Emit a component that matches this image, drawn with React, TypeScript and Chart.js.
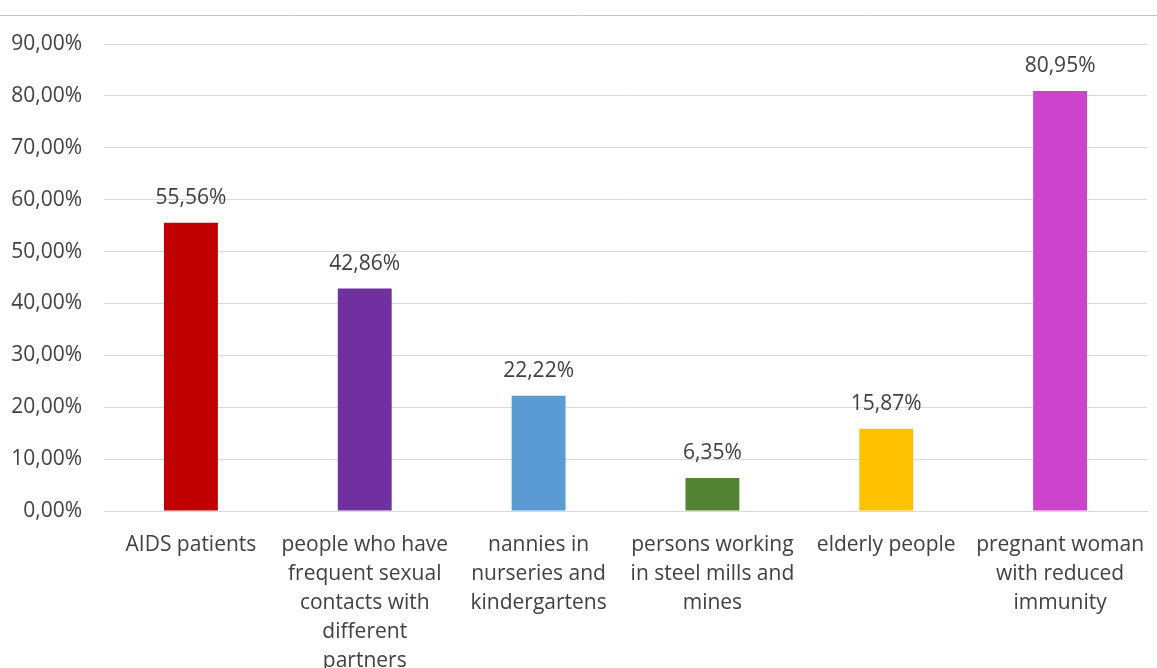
import React, { useEffect, useRef } from "react";
import { Chart, registerables } from "chart.js";

Chart.register(...registerables);

const categories: string[][] = [
  ["AIDS patients"],
  ["people who have", "frequent sexual", "contacts with", "different", "partners"],
  ["nannies in", "nurseries and", "kindergartens"],
  ["persons working", "in steel mills and", "mines"],
  ["elderly people"],
  ["pregnant woman", "with reduced", "immunity"],
];
const values: number[] = [55.56, 42.86, 22.22, 6.35, 15.87, 80.95];
const barColors: string[] = ["#C00000", "#7030A0", "#5B9BD5", "#548235", "#FFC000", "#CC44CC"];
const yMax = 90;
const yStep = 10;

const FONT = "'Open Sans', 'Liberation Sans', sans-serif";
const TEXT = "#404040";

const fmt = (v: number) => v.toFixed(2).replace(".", ",") + "%";

const topLine = {
  id: "topLine",
  beforeDraw(chart: any) {
    const ctx = chart.ctx;
    ctx.save();
    ctx.strokeStyle = "#C8C8C8";
    ctx.lineWidth = 1;
    ctx.beginPath();
    ctx.moveTo(0, 15.5);
    ctx.lineTo(chart.width, 15.5);
    ctx.stroke();
    ctx.restore();
  },
};

const valueLabels = {
  id: "valueLabels",
  afterDatasetsDraw(chart: any) {
    const ctx = chart.ctx;
    const meta = chart.getDatasetMeta(0);
    ctx.save();
    ctx.font = `21px ${FONT}`;
    ctx.fillStyle = TEXT;
    ctx.textAlign = "center";
    ctx.textBaseline = "middle";
    meta.data.forEach((bar: any, i: number) => {
      ctx.fillText(fmt(values[i]), bar.x, bar.y - 25);
    });
    ctx.restore();
  },
};

export default function App() {
  const ref = useRef<HTMLCanvasElement>(null);
  useEffect(() => {
    if (!ref.current) return;
    const chart = new Chart(ref.current, {
      type: "bar",
      data: {
        labels: categories,
        datasets: [
          {
            data: values,
            backgroundColor: barColors,
            barPercentage: 0.31,
            categoryPercentage: 1,
          },
        ],
      },
      options: {
        animation: false,
        responsive: false,
        maintainAspectRatio: false,
        layout: { padding: { top: 44, right: 10, left: 0, bottom: 0 } },
        plugins: {
          legend: { display: false },
          tooltip: { enabled: false },
        },
        scales: {
          x: {
            grid: { display: false, drawTicks: false },
            border: { display: true, color: "#D9D9D9", width: 1 },
            ticks: {
              autoSkip: false,
              maxRotation: 0,
              minRotation: 0,
              padding: 20,
              color: TEXT,
              font: { family: FONT, size: 21, lineHeight: 1.38 },
            },
            afterFit: (s: any) => {
              s.height = 157;
              s.paddingLeft = 0;
              s.paddingRight = 0;
            },
          },
          y: {
            min: 0,
            max: yMax,
            grid: { color: "#D9D9D9", drawTicks: false, lineWidth: 1 },
            border: { display: false },
            ticks: {
              stepSize: yStep,
              padding: 22,
              color: TEXT,
              font: { family: FONT, size: 21 },
              callback: (v: any) => fmt(Number(v)),
            },
            afterFit: (s: any) => {
              s.width = 104;
              s.paddingTop = 0;
              s.paddingBottom = 0;
            },
          },
        },
      },
      plugins: [topLine, valueLabels],
    });
    return () => chart.destroy();
  }, []);
  return (
    <div style={{ position: "fixed", left: 0, top: 0, width: 1157, height: 668, background: "#fff" }}>
      <canvas ref={ref} width={1157} height={668} style={{ display: "block" }} />
    </div>
  );
}
